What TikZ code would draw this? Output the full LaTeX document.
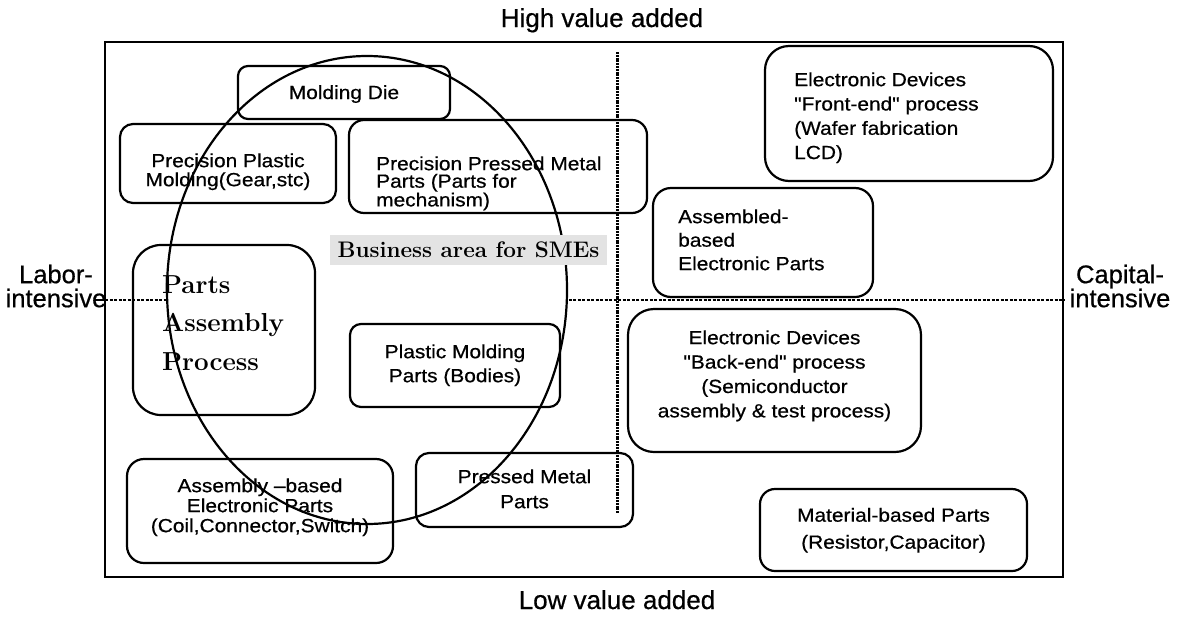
\documentclass[tikz,border=0pt]{standalone}
\usepackage{fontspec}
\usetikzlibrary{shapes.geometric}
\newfontfamily\boxfont[FakeStretch=1.1,FakeBold=0.6]{Liberation Sans}
\newfontfamily\labfont[FakeBold=0.6]{Liberation Sans}
\newcommand\bxf[1]{\boxfont\fontsize{19}{#1}\selectfont}
\begin{document}
\begin{tikzpicture}[x=1pt,y=-1pt,
  frm/.style={draw, line width=2.2pt, inner sep=0pt},
  box/.style={draw, line width=2.2pt, rounded corners=12pt, inner sep=0pt},
  bt/.style={inner sep=0pt, align=center},
  bl/.style={inner sep=0pt, align=left},
  lab/.style={inner sep=0pt, align=center, font=\labfont\fontsize{25.5}{24}\selectfont},
  hdot/.style={line width=1.1pt, dash pattern=on 3pt off 1.5pt},
  vdot/.style={line width=3pt, dash pattern=on 2pt off 0.8pt},
  oval/.style={draw, ellipse, line width=2.2pt, fill=white, inner sep=0pt},
  bizbg/.style={fill=black!11, inner sep=0pt, font=\bfseries\fontsize{22.5}{26}\selectfont}]
\useasboundingbox (0,0) rectangle (1182,616);
\fill[white] (0,0) rectangle (1182,616);

% outer frame
\node[frm, minimum width=958pt, minimum height=535pt] (frame) at (584,309.5) {};

% axes
\coordinate (hl) at (105,300);
\draw[hdot] (hl) -- (frame.east |- hl);
\coordinate (vt) at (617,52);
\coordinate (vb) at (617,513);
\draw[vdot] (vt) -- (vb);

% business area ellipse
\node[oval, minimum width=400pt, minimum height=468pt] (area) at (367,290) {};

% boxes
\node[box, rounded corners=10pt, minimum width=212pt, minimum height=53pt] (mold) at (344,92.5) {};
\node[box, rounded corners=13pt, minimum width=216pt, minimum height=79pt] (ppm) at (228,163.5) {};
\node[box, rounded corners=15pt, minimum width=298pt, minimum height=93pt] (ppmp) at (498,166.5) {};
\node[box, rounded corners=28pt, minimum width=182pt, minimum height=170pt] (pap) at (224,330) {};
\node[box, rounded corners=11pt, minimum width=210pt, minimum height=83pt] (pmp) at (455,365.5) {};
\node[box, rounded corners=17pt, minimum width=266pt, minimum height=104pt] (abe) at (260,511) {};
\node[box, rounded corners=13pt, minimum width=217pt, minimum height=74pt] (pmet) at (524.5,490) {};
\node[box, rounded corners=24pt, minimum width=288pt, minimum height=135pt] (fe) at (909,113.5) {};
\node[box, rounded corners=18pt, minimum width=220pt, minimum height=109pt] (ab) at (763,242.5) {};
\node[box, rounded corners=26pt, minimum width=293pt, minimum height=143pt] (be) at (774.5,380.5) {};
\node[box, rounded corners=15pt, minimum width=267pt, minimum height=82pt] (mat) at (893.5,530) {};

% box texts
\node[bt, anchor=base, font=\bxf{19}] (t-mold) at (344,99) {Molding Die};
\node[bt, anchor=north, font=\bxf{19}] (t-ppm) at (228,153.2) {Precision Plastic\\Molding(Gear,stc)};
\node[bl, anchor=north west, font=\bxf{17.5}] (t-ppmp) at (376,156.2) {Precision Pressed Metal\\Parts (Parts for\\mechanism)};
\node[bl, anchor=north west, font=\bfseries\fontsize{26}{38.5}\selectfont] (t-pap) at (162,275.2) {Parts\\Assembly\\Process};
\node[bt, anchor=north, font=\bxf{24}] (t-pmp) at (455,344.2) {Plastic Molding\\Parts (Bodies)};
\node[bt, anchor=north, font=\bxf{20}] (t-abe) at (260,478.2) {Assembly –based\\Electronic Parts\\(Coil,Connector,Switch)};
\node[bt, anchor=north, font=\bxf{25}] (t-pmet) at (524.5,469.2) {Pressed Metal\\Parts};
\node[bl, anchor=north west, font=\bxf{24.3}] (t-fe) at (794,72.2) {Electronic Devices\\"Front-end" process\\(Wafer fabrication\\LCD)};
\node[bl, anchor=north west, font=\bxf{23.5}] (t-ab) at (678,209.2) {Assembled-\\based\\Electronic Parts};
\node[bt, anchor=north, font=\bxf{24.4}] (t-be) at (774.5,330.2) {Electronic Devices\\"Back-end" process\\(Semiconductor\\assembly \& test process)};
\node[bt, anchor=north, font=\bxf{27}] (t-mat) at (893.5,507.7) {Material-based Parts\\(Resistor,Capacitor)};

% business area label
\node[bizbg, minimum width=277pt, minimum height=30pt] (biz) at (468.5,249.5) {Business area for SMEs};

% axis labels
\node[lab, anchor=north] (labor) at (56,264.5) {Labor-\\intensive};
\node[lab, anchor=north] (capital) at (1120,264.5) {Capital-\\intensive};
\node[inner sep=0pt, anchor=base, font=\labfont\fontsize{26}{30}\selectfont] (high) at (602,27) {High value added};
\node[inner sep=0pt, anchor=base, font=\labfont\fontsize{26}{30}\selectfont] (low) at (617,609) {Low value added};
\end{tikzpicture}
\end{document}
